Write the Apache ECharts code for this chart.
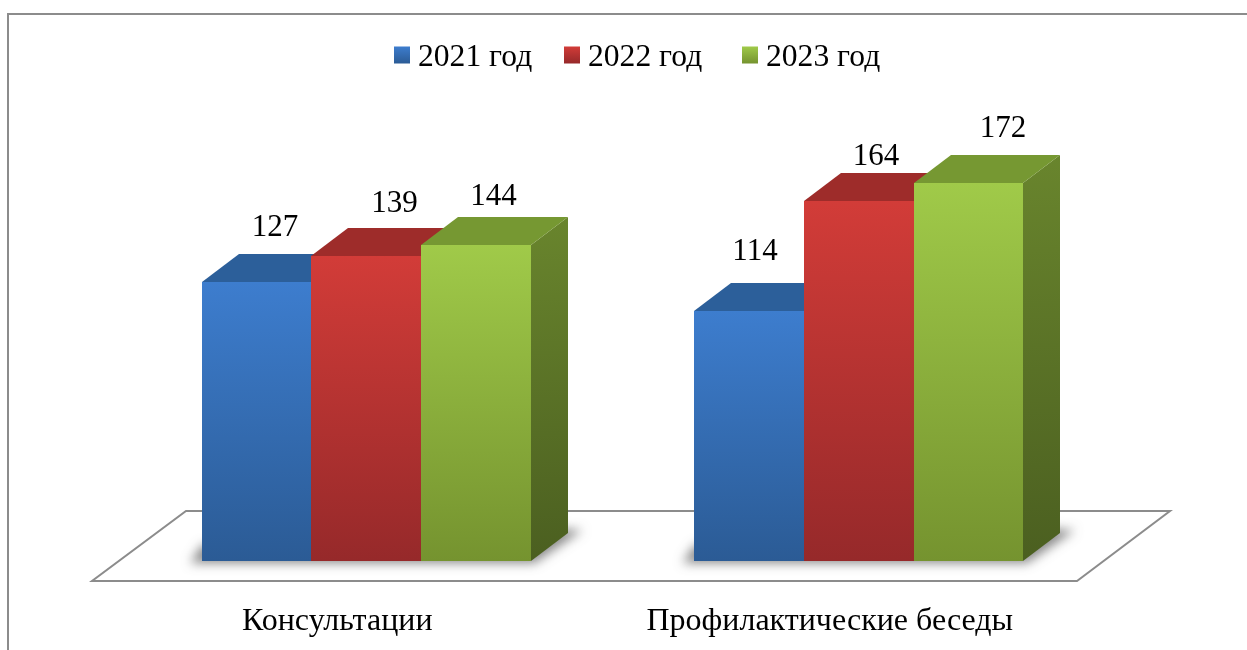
<!DOCTYPE html>
<html><head><meta charset="utf-8">
<style>html,body{margin:0;padding:0;background:#fff}#c{width:1247px;height:650px}</style>
<script src="https://cdn.jsdelivr.net/npm/echarts@6/dist/echarts.min.js"></script>
</head><body><div id="c"></div>
<script>
const categories = ['Консультации', 'Профилактические беседы'];
const years = ['2021 год', '2022 год', '2023 год'];
const values2021 = [127, 114];
const values2022 = [139, 164];
const values2023 = [144, 172];
const allValues = [values2021, values2022, values2023];

const FONT = '"Liberation Serif","Times New Roman",serif';
const palettes = [
  {front: ['#3d7dce', '#2b5b95'], top: '#2c5f9a', side: ['#2c5f9a', '#1f4470']},
  {front: ['#d23c38', '#96292a'], top: '#9e2c2a', side: ['#9e2c2a', '#6f1f1e']},
  {front: ['#a0ca49', '#75932f'], top: '#769832', side: ['#69852d', '#4b5f20']}
];
const DX = 37, DY = 28, BAR = 0.2225;
// small label shifts relative to the bar top, [dx, dy] by series then category
const nudges = [
  [[18.5, -54], [6, -59]],
  [[28.5, -52], [17, -44]],
  [[17.5, -48], [34.5, -54]]
];
const legendLeft = [389, 559, 737];
const grad = (c, x2, y2) => ({type: 'linear', x: 0, y: 0, x2, y2,
  colorStops: [{offset: 0, color: c[0]}, {offset: 1, color: c[1]}]});

function barRender(sIdx) {
  return function (params, api) {
    const cat = api.value(0), val = api.value(1);
    const base = api.coord([cat, 0]), top = api.coord([cat, val]);
    const band = api.size([1, 0])[0], w0 = band * BAR;
    const x = Math.round(base[0] + (sIdx - 1.5) * w0);
    const xr = Math.round(base[0] + (sIdx - 0.5) * w0);
    const w = xr - x;
    const y0 = Math.round(base[1]), y1 = Math.round(top[1]);
    const p = palettes[sIdx], n = nudges[sIdx][cat];
    return {type: 'group', children: [
      {type: 'polygon', shape: {points: [[x + w, y1], [x + w + DX, y1 - DY], [x + w + DX, y0 - DY], [x + w, y0]]},
        style: {fill: grad(p.side, 0.3, 1)}},
      {type: 'polygon', shape: {points: [[x, y1], [x + DX, y1 - DY], [x + w + DX, y1 - DY], [x + w, y1]]},
        style: {fill: p.top}},
      {type: 'rect', shape: {x, y: y1, width: w, height: y0 - y1},
        style: {fill: grad(p.front, 0, 1)}},
      {type: 'text', x: x + w / 2 + n[0], y: y1 + n[1],
        style: {text: String(val), font: '31px ' + FONT, fill: '#000', align: 'center', verticalAlign: 'middle'}}
    ]};
  };
}

function floorRender(params, api) {
  const c0 = api.coord([0, 0]), c1 = api.coord([1, 0]);
  const band = api.size([1, 0])[0];
  const l = c0[0] - band / 2, r = c1[0] + band / 2, y = c0[1];
  const OFF = 3000;
  const shadow = c => ({type: 'polygon', x: -OFF,
    shape: {points: [[c - 176, y + 2], [c + 168, y + 2], [c + 216, y - 31], [c + 165, y - 33], [c - 164, y - 16]]},
    style: {fill: '#555', shadowBlur: 11, shadowColor: 'rgba(85,85,85,0.7)', shadowOffsetX: OFF}});
  return {type: 'group', children: [
    {type: 'polygon', shape: {points: [[l - 28, y + 20], [r - 28, y + 20], [r + 65, y - 50], [l + 66, y - 50]]},
      style: {fill: '#fff', stroke: '#8c8c8c', lineWidth: 2}},
    shadow(c0[0]), shadow(c1[0])
  ]};
}

const series = [{type: 'custom', name: 'floor', silent: true, renderItem: floorRender,
  data: [[0, 0]], encode: {x: 0, y: 1}, z: 1}];
years.forEach((name, i) => {
  series.push({type: 'custom', name, renderItem: barRender(i),
    itemStyle: {color: {type: 'linear', x: 0, y: 0, x2: 0, y2: 1,
      colorStops: [{offset: 0, color: palettes[i].front[0]}, {offset: 1, color: palettes[i].front[1]}]}},
    data: allValues[i].map((v, c) => [c, v]), encode: {x: 0, y: 1}, z: 2 + i});
});

const chart = echarts.init(document.getElementById('c'), null, {renderer: 'canvas'});
chart.setOption({
  animation: false,
  backgroundColor: '#fff',
  graphic: [{type: 'polyline', shape: {points: [[8, 650], [8, 14], [1247, 14]]},
    style: {fill: null, stroke: '#8c8c8c', lineWidth: 2}, silent: true}],
  legend: years.map((name, i) => ({
    data: [name], left: legendLeft[i], top: 37, itemWidth: 16, itemHeight: 17,
    icon: 'rect', selectedMode: false,
    formatter: '{t|{name}}',
    textStyle: {rich: {t: {fontFamily: FONT, fontSize: 31.6, color: '#000', padding: [6, 0, 0, 3]}}}
  })),
  grid: {left: 120, right: 142, top: 122, bottom: 89},
  xAxis: {type: 'category', data: categories, axisLine: {show: false}, axisTick: {show: false},
    axisLabel: {fontFamily: FONT, fontSize: 32, color: '#000', margin: 45, padding: [0, 58, 0, 0], interval: 0}},
  yAxis: {type: 'value', min: 0, max: 200, show: false},
  tooltip: {show: false},
  series
});
</script></body></html>
